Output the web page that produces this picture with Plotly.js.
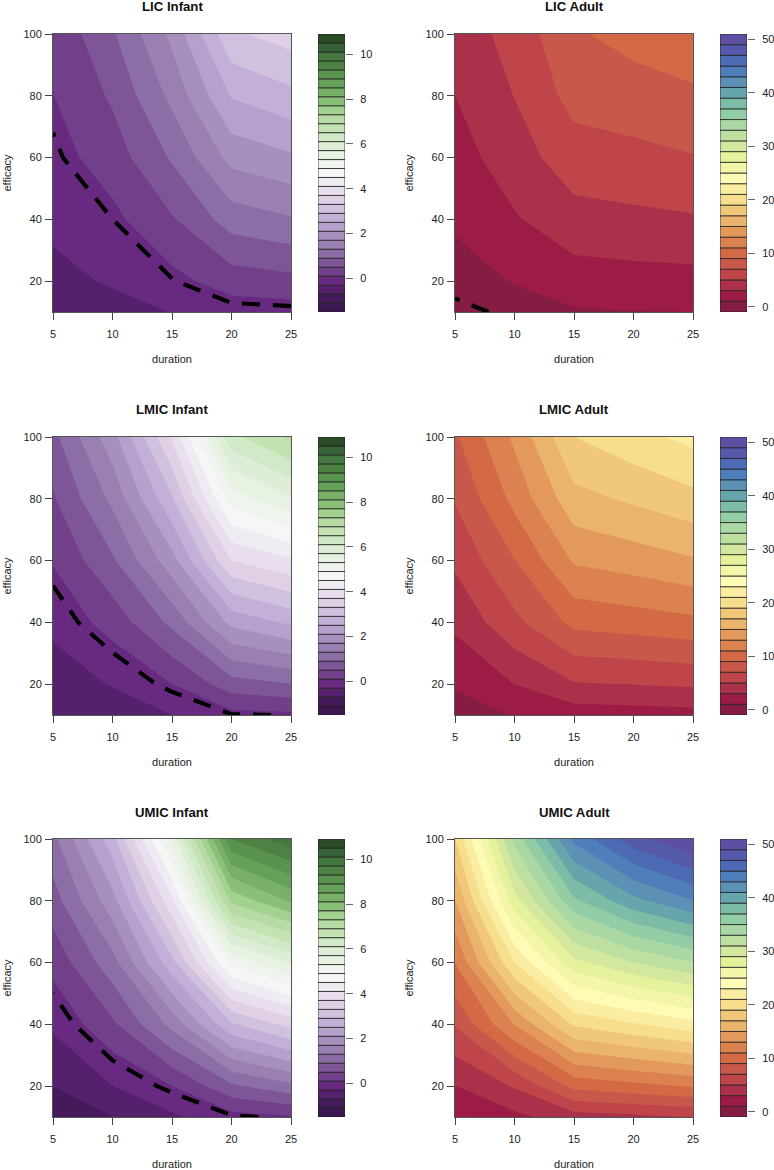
<!DOCTYPE html>
<html><head><meta charset="utf-8">
<script src="https://cdn.plot.ly/plotly-3.0.1.min.js"></script>
<style>html,body{margin:0;padding:0;background:#fff}</style></head>
<body><div id="chart" style="width:774px;height:1170px"></div>
<script>
const duration = [5,10,15,20,25];
const efficacy = [10,20,40,60,80,100];
// z[row = efficacy][col = duration]
const licInfant = [
 [-0.48,-0.42,-0.29,-0.12,-0.09],
 [-0.40,-0.26,-0.02,0.29,0.38],
 [-0.22,0.0,0.46,1.09,1.26],
 [-0.06,0.30,0.95,1.83,2.04],
 [0.09,0.56,1.41,2.53,2.79],
 [0.18,0.85,1.80,3.23,3.48]];
const licAdult = [
 [-0.23,0.18,0.80,0.95,1.00],
 [0.29,1.10,2.05,2.25,2.33],
 [1.27,2.80,4.30,4.55,4.80],
 [2.13,4.12,6.08,6.45,6.90],
 [2.99,5.05,7.70,8.10,8.67],
 [3.80,5.75,8.75,9.70,10.30]];
const lmicInfant = [
 [-0.69,-0.55,-0.30,-0.02,0.01],
 [-0.53,-0.27,0.10,0.72,0.90],
 [-0.19,0.26,1.00,2.22,2.58],
 [0.13,0.84,1.95,3.70,4.05],
 [0.46,1.40,2.85,5.09,5.65],
 [0.78,1.95,3.75,6.38,7.00]];
const lmicAdult = [
 [0.10,1.10,1.95,2.10,2.25],
 [1.24,3.03,4.85,5.05,5.30],
 [3.43,6.47,9.55,10.00,10.50],
 [5.38,8.93,13.25,13.95,14.80],
 [7.14,11.60,16.35,17.35,18.40],
 [8.70,13.40,19.00,20.30,21.60]];
const umicInfant = [
 [-0.89,-0.70,-0.37,-0.05,0.06],
 [-0.70,-0.30,0.10,0.82,1.20],
 [-0.23,0.42,1.43,2.85,3.45],
 [0.23,1.15,2.77,5.00,5.74],
 [0.72,1.95,4.00,7.40,8.15],
 [1.18,2.75,5.45,9.30,9.95]];
const umicAdult = [
 [1.00,2.50,4.10,4.50,5.00],
 [2.95,5.20,9.60,10.40,11.20],
 [7.20,13.10,19.30,20.80,22.30],
 [11.05,21.00,28.40,31.00,32.90],
 [14.95,28.20,36.60,40.40,42.95],
 [19.00,33.70,43.50,48.20,50.90]];

const panelTitles = ['LIC Infant','LIC Adult','LMIC Infant','LMIC Adult','UMIC Infant','UMIC Adult'];
const panelData = [licInfant,licAdult,lmicInfant,lmicAdult,umicInfant,umicAdult];

const infantStart=-1.5, infantSize=0.4;
const infantColors=['#3b1650','#451a5a','#55206c','#672a80','#72408b','#7e5596','#8a6ea5','#997fb2','#a78fbe','#b6a0cc','#c2b0d8','#d0c1df','#dfd0e6','#e8deed','#efebf2','#f6f6f6','#f0f4ee','#e8f2e3','#deeed6','#d0e9c6','#c4e2b2','#b7dba5','#a3d190','#8abf78','#78b068','#66a15a','#5a924f','#4d8244','#457840','#376136','#2b4b27'];
const infantTicks=[0,2,4,6,8,10];
const adultStart=-1, adultSize=2;
const adultColors=['#841c44','#9c1c46','#ab3049','#bf454b','#c8594a','#d46a45','#dc8250','#e4995c','#ebb46e','#f1c87a','#f6de8c','#faeda2','#fdfbb5','#f3f6a9','#e5f29b','#d3e89e','#bddfa0','#a9d8a4','#93cda6','#7dbca6','#66a5ab','#5c90b5','#4f7fba','#4d6bb5','#5559aa','#5e4fa2'];
const adultTicks=[0,10,20,30,40,50];

const W=774,H=1170;
const rowTops=[34,437,839], rowH=278;
const colLefts=[53,455], colW=238, cbarLefts=[318,720], cbarW=27;
const titleY=[7,409,812];
const font='"Liberation Sans",Arial,sans-serif';
const traces=[]; const layout={width:W,height:H,margin:{l:0,r:0,t:0,b:0},paper_bgcolor:'#fff',plot_bgcolor:'#fff',showlegend:false,font:{family:font,size:11,color:'#222'},annotations:[]};

function discrete(colors){
  const out=[];const n=colors.length;
  colors.forEach((c,i)=>{out.push([i/n,c]);out.push([(i+1)/n,c]);});
  return out;
}
function axCommon(){return {ticks:'outside',ticklen:7,tickwidth:1,tickcolor:'#444',showline:true,linecolor:'#555',linewidth:1,mirror:true,showgrid:false,zeroline:false,tickfont:{family:font,size:11,color:'#222'}};}

panelData.forEach((z,i)=>{
  const r=Math.floor(i/2), c=i%2, infant=c===0;
  const k=2*i+1, k2=2*i+2;
  const xa='x'+k, ya='y'+k, xb='x'+k2, yb='y'+k2;
  const colors=infant?infantColors:adultColors, st=infant?infantStart:adultStart, sz=infant?infantSize:adultSize;
  const n=colors.length;
  traces.push({type:'contour',x:duration,y:efficacy,z:z,xaxis:xa,yaxis:ya,autocontour:false,showscale:false,
    contours:{start:st,end:st+n*sz,size:sz,coloring:'fill',showlines:false},line:{width:0,smoothing:0},
    colorscale:discrete(colors),hoverinfo:'skip'});
  traces.push({type:'contour',x:duration,y:efficacy,z:z,xaxis:xa,yaxis:ya,autocontour:false,showscale:false,
    contours:{start:0,end:0,size:1,coloring:'none',showlines:true},line:{color:'#000',width:4.2,dash:'18px,13px',smoothing:0},hoverinfo:'skip'});
  traces.push({type:'bar',x:colors.map(()=>0),y:colors.map(()=>sz),base:colors.map((_,j)=>st+j*sz),width:1,
    marker:{color:colors,line:{color:'#222',width:0.8}},xaxis:xb,yaxis:yb,hoverinfo:'skip'});

  const top=rowTops[r], bot=top+rowH, left=colLefts[c];
  layout['xaxis'+k]=Object.assign(axCommon(),{anchor:ya,domain:[left/W,(left+colW)/W],range:[5,25],tickvals:[5,10,15,20,25],ticklabelstandoff:5,
     title:{text:'duration',font:{family:font,size:11,color:'#222'},standoff:16}});
  layout['yaxis'+k]=Object.assign(axCommon(),{anchor:xa,domain:[1-bot/H,1-top/H],range:[10,100],tickvals:[20,40,60,80,100],ticklabelstandoff:1,
     title:{text:'efficacy',font:{family:font,size:11,color:'#222'},standoff:9}});
  const cl=cbarLefts[c];
  layout['xaxis'+k2]={anchor:yb,domain:[cl/W,(cl+cbarW)/W],range:[-0.5,0.5],showticklabels:false,ticks:'',showgrid:false,zeroline:false,showline:false,fixedrange:true};
  layout['yaxis'+k2]=Object.assign(axCommon(),{anchor:xb,side:'right',domain:[1-bot/H,1-top/H],range:[st,st+n*sz],tickvals:infant?infantTicks:adultTicks,ticklabelstandoff:5,tickcolor:'#666',mirror:false,showline:false});
  layout.annotations.push({xref:'paper',yref:'paper',x:(left+colW/2)/W,y:1-titleY[r]/H,xanchor:'center',yanchor:'middle',showarrow:false,text:'<b>'+panelTitles[i]+'</b>',font:{family:font,size:13.2,color:'#111'}});
});
Plotly.newPlot('chart',traces,layout,{displayModeBar:false,staticPlot:true});
</script></body></html>
